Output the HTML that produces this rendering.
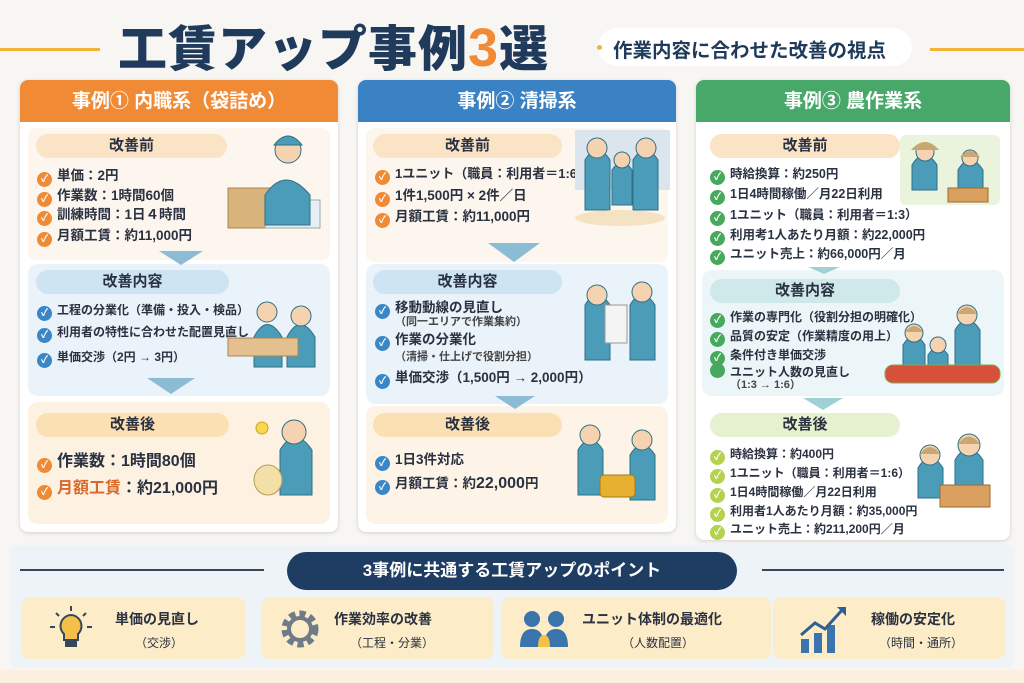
<!DOCTYPE html>
<html><head><meta charset="utf-8"><style>
*{margin:0;padding:0;box-sizing:border-box}
body{width:1024px;height:683px;overflow:hidden;background:#f7f6f3;font-family:"Liberation Sans","Noto Sans CJK JP",sans-serif;color:#2a3140;position:relative}
.a{position:absolute}
.card{position:absolute;background:#fff;border-radius:8px;box-shadow:0 1px 4px rgba(0,0,0,.15);overflow:hidden}
.hd{position:absolute;left:0;right:0;top:0;height:42px;color:#fff;font-weight:bold;font-size:19px;text-align:center;line-height:44px}
.pill{position:absolute;height:24px;border-radius:12px;text-align:center;font-weight:bold;font-size:15px;line-height:24px;color:#2a3140}
.it{position:absolute;font-weight:bold;font-size:13.5px;white-space:nowrap;line-height:16px}
.it .c{display:inline-block;width:15px;height:15px;border-radius:50%;color:#fff;font-size:10px;text-align:center;line-height:15px;margin-right:5px;vertical-align:-2px}
.o{background:#f08a35}.b{background:#3a87c8}.g{background:#46a95e}.y{background:#b5d24e}
.sub{font-size:11px;font-weight:bold;color:#444}
.chev{position:absolute;width:0;height:0;border-left:24px solid transparent;border-right:24px solid transparent;border-top:16px solid #8cbbd6}
.pbox{position:absolute;background:#fdecc8;border-radius:8px;height:62px}
.pbox .t{position:absolute;font-weight:bold;font-size:14px;white-space:nowrap}
.pbox .s{position:absolute;font-size:12px;white-space:nowrap}
</style></head><body>
<!-- title -->
<div class="a" style="left:0;top:48px;width:100px;height:3px;background:#f3b23a"></div>
<div class="a" style="left:118px;top:10px;font-size:49px;font-weight:900;color:#1f3a5a;white-space:nowrap;letter-spacing:1px">工賃アップ事例<span style="color:#f08a35;font-size:54px">3</span>選</div>
<div class="a" style="left:598px;top:28px;width:314px;height:38px;border-radius:19px;background:#fff"></div>
<div class="a" style="left:597px;top:45px;width:5px;height:5px;border-radius:50%;background:#f3b23a"></div>
<div class="a" style="left:613px;top:34px;font-size:19.5px;font-weight:bold;color:#1f3a5a;white-space:nowrap">作業内容に合わせた改善の視点</div>
<div class="a" style="left:930px;top:48px;width:94px;height:3px;background:#f3b23a"></div>

<!-- card1 -->
<div class="card" style="left:20px;top:80px;width:318px;height:452px">
<div class="hd" style="background:#f08a35">事例① 内職系（袋詰め）</div>
<div class="a" style="left:8px;top:48px;width:302px;height:132px;background:#fdf6ee;border-radius:8px"></div>
<div class="a" style="left:8px;top:184px;width:302px;height:132px;background:#eaf3fa;border-radius:10px"></div>
<div class="a" style="left:8px;top:322px;width:302px;height:122px;background:#fdf1e2;border-radius:10px"></div>
</div>
<div class="pill" style="left:36px;top:134px;width:191px;background:#fbe3c6">改善前</div>
<div class="it" style="left:37px;top:168px"><span class="c o">✓</span>単価：2円</div>
<div class="it" style="left:37px;top:188px"><span class="c o">✓</span>作業数：1時間60個</div>
<div class="it" style="left:37px;top:207px"><span class="c o">✓</span>訓練時間：1日４時間</div>
<div class="it" style="left:37px;top:228px"><span class="c o">✓</span>月額工賃：約11,000円</div>
<div class="chev" style="left:159px;top:251px;border-left-width:22px;border-right-width:22px;border-top-width:14px"></div>
<div class="pill" style="left:36px;top:270px;width:193px;background:#cfe4f2">改善内容</div>
<div class="it" style="left:37px;top:302px;font-size:12px"><span class="c b">✓</span>工程の分業化（準備・投入・検品）</div>
<div class="it" style="left:37px;top:324px;font-size:12px"><span class="c b">✓</span>利用者の特性に合わせた配置見直し</div>
<div class="it" style="left:37px;top:349px;font-size:12px"><span class="c b">✓</span>単価交渉（2円 → 3円）</div>
<div class="chev" style="left:147px;top:378px"></div>
<div class="pill" style="left:36px;top:413px;width:193px;background:#fbe0b4">改善後</div>
<div class="it" style="left:37px;top:454px;font-size:16px"><span class="c o">✓</span>作業数：1時間80個</div>
<div class="it" style="left:37px;top:481px;font-size:16px"><span class="c o">✓</span><span style="color:#d8692a">月額工賃</span>：約21,000円</div>

<!-- card2 -->
<div class="card" style="left:358px;top:80px;width:318px;height:452px">
<div class="hd" style="background:#3a82c4">事例② 清掃系</div>
<div class="a" style="left:8px;top:48px;width:302px;height:134px;background:#fdf6ee;border-radius:8px"></div>
<div class="a" style="left:8px;top:184px;width:302px;height:140px;background:#eaf3fa;border-radius:10px"></div>
<div class="a" style="left:8px;top:326px;width:302px;height:118px;background:#fdf3e6;border-radius:10px"></div>
</div>
<div class="pill" style="left:373px;top:134px;width:189px;background:#fbe3c6">改善前</div>
<div class="it" style="left:375px;top:166px;font-size:13px"><span class="c o">✓</span>1ユニット（職員：利用者＝1:6）</div>
<div class="it" style="left:375px;top:188px"><span class="c o">✓</span>1件1,500円 × 2件／日</div>
<div class="it" style="left:375px;top:209px"><span class="c o">✓</span>月額工賃：約11,000円</div>
<div class="chev" style="left:488px;top:243px;border-left-width:26px;border-right-width:26px;border-top-width:19px"></div>
<div class="pill" style="left:373px;top:270px;width:189px;background:#cfe4f2">改善内容</div>
<div class="it" style="left:375px;top:300px"><span class="c b">✓</span>移動動線の見直し</div>
<div class="it sub" style="left:395px;top:314px">（同一エリアで作業集約）</div>
<div class="it" style="left:375px;top:332px"><span class="c b">✓</span>作業の分業化</div>
<div class="it sub" style="left:395px;top:349px">（清掃・仕上げで役割分担）</div>
<div class="it" style="left:375px;top:370px"><span class="c b">✓</span>単価交渉（1,500円 → 2,000円）</div>
<div class="chev" style="left:495px;top:396px;border-left-width:20px;border-right-width:20px;border-top-width:13px"></div>
<div class="pill" style="left:373px;top:413px;width:189px;background:#fbe0b4">改善後</div>
<div class="it" style="left:375px;top:452px"><span class="c b">✓</span>1日3件対応</div>
<div class="it" style="left:375px;top:476px"><span class="c b">✓</span>月額工賃：約<span style="font-size:16px">22,000</span>円</div>

<!-- card3 -->
<div class="card" style="left:696px;top:80px;width:314px;height:460px">
<div class="hd" style="background:#48a86a">事例③ 農作業系</div>
<div class="a" style="left:6px;top:190px;width:302px;height:126px;background:#ecf6f8;border-radius:10px"></div>
</div>
<div class="pill" style="left:710px;top:134px;width:190px;background:#fbe3c6">改善前</div>
<div class="it" style="left:710px;top:166px;font-size:12.5px"><span class="c g">✓</span>時給換算：約250円</div>
<div class="it" style="left:710px;top:186px;font-size:12.5px"><span class="c g">✓</span>1日4時間稼働／月22日利用</div>
<div class="it" style="left:710px;top:207px;font-size:12.5px"><span class="c g">✓</span>1ユニット（職員：利用者＝1:3）</div>
<div class="it" style="left:710px;top:227px;font-size:12.5px"><span class="c g">✓</span>利用考1人あたり月額：約22,000円</div>
<div class="it" style="left:710px;top:246px;font-size:12.5px"><span class="c g">✓</span>ユニット売上：約66,000円／月</div>
<div class="chev" style="left:808px;top:267px;border-left-width:16px;border-right-width:16px;border-top-width:7px;border-top-color:#9fd0d6"></div>
<div class="pill" style="left:710px;top:279px;width:190px;background:#cfe9ea">改善内容</div>
<div class="it" style="left:710px;top:309px;font-size:12px"><span class="c g">✓</span>作業の専門化（役割分担の明確化）</div>
<div class="it" style="left:710px;top:328px;font-size:12px"><span class="c g">✓</span>品質の安定（作業精度の用上）</div>
<div class="it" style="left:710px;top:347px;font-size:12px"><span class="c g">✓</span>条件付き単価交渉</div>
<div class="it" style="left:710px;top:363px;font-size:12px"><span class="c g"></span>ユニット人数の見直し</div>
<div class="it sub" style="left:730px;top:377px">（1:3 → 1:6）</div>
<div class="chev" style="left:803px;top:398px;border-left-width:20px;border-right-width:20px;border-top-width:12px;border-top-color:#9fd0d6"></div>
<div class="pill" style="left:710px;top:413px;width:190px;background:#e6f1cf">改善後</div>
<div class="it" style="left:710px;top:446px;font-size:12px"><span class="c y">✓</span>時給換算：約400円</div>
<div class="it" style="left:710px;top:465px;font-size:12px"><span class="c y">✓</span>1ユニット（職員：利用者＝1:6）</div>
<div class="it" style="left:710px;top:484px;font-size:12px"><span class="c y">✓</span>1日4時間稼働／月22日利用</div>
<div class="it" style="left:710px;top:503px;font-size:12px"><span class="c y">✓</span>利用者1人あたり月額：約35,000円</div>
<div class="it" style="left:710px;top:521px;font-size:12px"><span class="c y">✓</span>ユニット売上：約211,200円／月</div>

<!-- illustrations -->
<svg class="a" style="left:0;top:0" width="1024" height="545">
<g fill="#4b9cb8" stroke="#2e6f86" stroke-width="1">
 <rect x="228" y="188" width="50" height="40" fill="#d9b37c" stroke="#a98550"/>
 <rect x="265" y="200" width="55" height="28" fill="#e8eef5" stroke="#9aa"/>
 <path d="M265 195 q20-30 45 0 v30 h-45z"/><circle cx="288" cy="150" r="13" fill="#f6d3b0"/><path d="M274 145 q14-18 28 0z"/>
 <path d="M254 337 q13-25 28 0 v30 h-28z"/><circle cx="267" cy="312" r="10" fill="#f6d3b0"/>
 <path d="M287 337 q13-25 28 0 v30 h-28z"/><circle cx="301" cy="316" r="10" fill="#f6d3b0"/>
 <rect x="228" y="338" width="70" height="18" fill="#e4c08e" stroke="#a98550"/>
 <path d="M280 450 q15-25 32 0 v45 h-32z"/><circle cx="294" cy="432" r="12" fill="#f6d3b0"/>
 <ellipse cx="268" cy="480" rx="14" ry="15" fill="#f3dfa8" stroke="#b89b55"/>
 <circle cx="262" cy="428" r="6" fill="#f8d84a" stroke="#c9a420"/>
 <rect x="575" y="130" width="95" height="60" fill="#dbe5ee" stroke="none"/>
 <path d="M585 160 q12-20 25 0 v50 h-25z"/><circle cx="597" cy="148" r="10" fill="#f6d3b0"/>
 <path d="M612 170 q10-15 20 0 v35 h-20z"/><circle cx="622" cy="160" r="8" fill="#f6d3b0"/>
 <path d="M633 160 q12-20 25 0 v50 h-25z"/><circle cx="646" cy="148" r="10" fill="#f6d3b0"/>
 <ellipse cx="620" cy="218" rx="45" ry="8" fill="#f3e3c3" stroke="none"/>
 <path d="M585 305 q12-20 25 0 v55 h-25z"/><circle cx="597" cy="295" r="10" fill="#f6d3b0"/>
 <rect x="605" y="305" width="22" height="38" fill="#f4f4f4" stroke="#999"/>
 <path d="M630 305 q12-20 25 0 v55 h-25z"/><circle cx="642" cy="292" r="10" fill="#f6d3b0"/>
 <path d="M578 450 q12-20 25 0 v45 h-25z"/><circle cx="590" cy="435" r="10" fill="#f6d3b0"/>
 <path d="M630 455 q12-20 25 0 v45 h-25z"/><circle cx="642" cy="440" r="10" fill="#f6d3b0"/>
 <rect x="600" y="475" width="35" height="22" rx="4" fill="#e8b030" stroke="#a87a10"/>
 <rect x="900" y="135" width="100" height="70" rx="6" fill="#eaf3dc" stroke="none"/>
 <path d="M912 165 q12-20 25 0 v25 h-25z"/><circle cx="925" cy="152" r="9" fill="#f6d3b0"/>
 <path d="M958 170 q12-20 25 0 v20 h-25z"/><circle cx="970" cy="158" r="8" fill="#f6d3b0"/>
 <rect x="948" y="188" width="40" height="14" fill="#d9a060" stroke="#a06a30"/>
 <path d="M903 345 q11-18 22 0 v35 h-22z"/><circle cx="914" cy="333" r="9" fill="#f6d3b0"/>
 <path d="M928 355 q10-15 20 0 v25 h-20z"/><circle cx="938" cy="345" r="8" fill="#f6d3b0"/>
 <path d="M955 330 q12-20 25 0 v50 h-25z"/><circle cx="967" cy="315" r="10" fill="#f6d3b0"/>
 <rect x="885" y="365" width="115" height="18" rx="8" fill="#d8503a" stroke="#7ea850"/>
 <path d="M918 468 q12-20 25 0 v30 h-25z"/><circle cx="930" cy="455" r="10" fill="#f6d3b0"/>
 <path d="M955 460 q13-22 28 0 v40 h-28z"/><circle cx="969" cy="445" r="11" fill="#f6d3b0"/>
 <rect x="940" y="485" width="50" height="22" fill="#d9a060" stroke="#a06a30"/>
</g>
<g fill="#c9a773"><path d="M911 150 q14-16 28 0z"/><path d="M960 157 q10-12 20 0z"/><path d="M905 332 q9-12 18 0z"/><path d="M957 314 q10-14 20 0z"/><path d="M920 454 q10-14 20 0z"/><path d="M958 444 q11-15 22 0z"/></g>
</svg>

<!-- bottom -->
<div class="a" style="left:10px;top:545px;width:1004px;height:122px;background:#eef3f8;border-radius:6px"></div>
<div class="a" style="left:20px;top:569px;width:244px;height:2px;background:#34475c"></div>
<div class="a" style="left:762px;top:569px;width:242px;height:2px;background:#34475c"></div>
<div class="a" style="left:287px;top:552px;width:450px;height:38px;border-radius:19px;background:#1f3d62;color:#fff;font-weight:bold;font-size:17px;text-align:center;line-height:38px">3事例に共通する工賃アップのポイント</div>
<div class="pbox" style="left:22px;top:597px;width:223px">
 <svg class="a" style="left:26px;top:8px" width="46" height="46"><path d="M23 10a11 11 0 0 1 7 19v6h-14v-6a11 11 0 0 1 7-19z" fill="#f4c04a" stroke="#34475c" stroke-width="2"/><rect x="17" y="36" width="12" height="6" fill="#34475c"/><g stroke="#34475c" stroke-width="2"><line x1="23" y1="1" x2="23" y2="6"/><line x1="8" y1="8" x2="11" y2="11"/><line x1="38" y1="8" x2="35" y2="11"/><line x1="2" y1="22" x2="7" y2="22"/><line x1="39" y1="22" x2="44" y2="22"/></g></svg>
 <div class="t" style="left:93px;top:12px">単価の見直し</div><div class="s" style="left:113px;top:37px">（交渉）</div></div>
<div class="pbox" style="left:262px;top:597px;width:232px">
 <svg class="a" style="left:16px;top:10px" width="44" height="44"><circle cx="22" cy="22" r="15" fill="none" stroke="#6f7b88" stroke-width="7" stroke-dasharray="6 4"/><circle cx="22" cy="22" r="11" fill="none" stroke="#6f7b88" stroke-width="4"/></svg>
 <div class="t" style="left:72px;top:12px">作業効率の改善</div><div class="s" style="left:88px;top:37px">（工程・分業）</div></div>
<div class="pbox" style="left:502px;top:597px;width:269px">
 <svg class="a" style="left:16px;top:12px" width="56" height="40"><circle cx="14" cy="10" r="8" fill="#3a74ad"/><circle cx="38" cy="10" r="8" fill="#3a74ad"/><path d="M2 38q0-18 12-18t12 18z" fill="#3a74ad"/><path d="M26 38q0-18 12-18t12 18z" fill="#3a74ad"/><path d="M20 38q0-12 6-12t6 12z" fill="#f4c04a"/></svg>
 <div class="t" style="left:80px;top:12px">ユニット体制の最適化</div><div class="s" style="left:120px;top:37px">（人数配置）</div></div>
<div class="pbox" style="left:773px;top:597px;width:232px">
 <svg class="a" style="left:26px;top:6px" width="52" height="52"><rect x="2" y="36" width="8" height="14" fill="#3a74ad"/><rect x="15" y="30" width="8" height="20" fill="#3a74ad"/><rect x="28" y="22" width="8" height="28" fill="#3a74ad"/><polyline points="2,32 16,20 26,26 44,6" fill="none" stroke="#2e5f8f" stroke-width="3"/><path d="M38 4h9v9z" fill="#2e5f8f"/></svg>
 <div class="t" style="left:98px;top:12px">稼働の安定化</div><div class="s" style="left:106px;top:37px">（時間・通所）</div></div>
<div class="a" style="left:0;top:670px;width:1024px;height:13px;background:#fcefe0"></div>
</body></html>
